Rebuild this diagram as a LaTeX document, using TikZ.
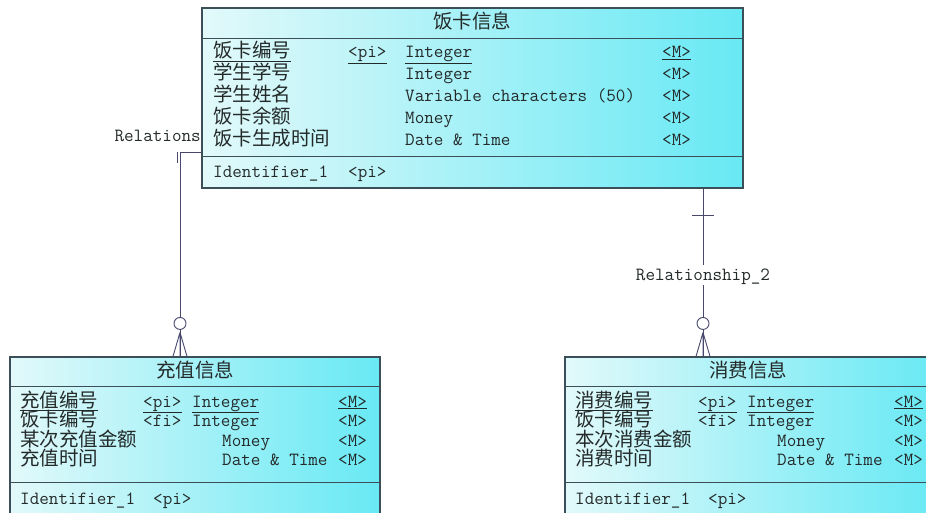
\documentclass[tikz,border=0pt]{standalone}
\usepackage{fontspec}
\newfontfamily\cjk{Noto Sans CJK SC}
\definecolor{entlight}{RGB}{226,249,250}
\definecolor{entdark}{RGB}{104,233,244}
\definecolor{entline}{RGB}{60,78,88}
\definecolor{relline}{RGB}{72,72,110}
\definecolor{txt}{RGB}{36,42,42}
\begin{document}
\begin{tikzpicture}[x=1pt, y=-1pt,
    cn/.style={inner sep=0pt, text=txt, text height=13, text depth=3,
      font=\cjk\fontsize{19.5}{20}\selectfont},
    tt/.style={inner sep=0pt, text=txt, text height=13, text depth=3,
      font=\ttfamily\fontsize{18.6}{18}\selectfont},
    ent/.style={draw=entline, line width=1.1pt, left color=entlight,
      right color=entdark, inner sep=0pt},
    rel/.style={draw=relline, line width=0.9pt}]
  \useasboundingbox[fill=white] (0,0) rectangle (926,513);

  % label of the first link, cut by the box
  \node[tt, anchor=east] (lab1) at (201,137) {Relations};

  % 饭卡信息
  \node[ent, minimum width=541, minimum height=180] (fanka) at (472.5,98) {};
  \draw[entline, line width=1.1pt] (fanka.north west) ++(0,31) -- ++(541,0);
  \draw[entline, line width=1.1pt] (fanka.north west) ++(0,149) -- ++(541,0);
  \node[cn] (fanka-t) at (472,24) {饭卡信息};
  \node[cn, anchor=west] (f1) at (213,53) {\underline{饭卡编号}};
  \node[cn, anchor=west] (f2) at (213,75) {学生学号};
  \node[cn, anchor=west] (f3) at (213,97) {学生姓名};
  \node[cn, anchor=west] (f4) at (213,119) {饭卡余额};
  \node[cn, anchor=west] (f5) at (213,141) {饭卡生成时间};
  \node[tt, anchor=west] (fk1) at (348,53) {\underline{<pi>}};
  \node[tt, anchor=west] (ft1) at (405,53) {\underline{Integer}};
  \node[tt, anchor=west] (ft2) at (405,75) {Integer};
  \node[tt, anchor=west] (ft3) at (405,97) {Variable characters (50)};
  \node[tt, anchor=west] (ft4) at (405,119) {Money};
  \node[tt, anchor=west] (ft5) at (405,141) {Date \& Time};
  \node[tt, anchor=west] (fm1) at (662,53) {\underline{<M>}};
  \node[tt, anchor=west] (fm2) at (662,75) {<M>};
  \node[tt, anchor=west] (fm3) at (662,97) {<M>};
  \node[tt, anchor=west] (fm4) at (662,119) {<M>};
  \node[tt, anchor=west] (fm5) at (662,141) {<M>};
  \node[tt, anchor=west] (f-id) at (213,173) {Identifier\_1};
  \node[tt, anchor=west] (f-idk) at (348,173) {<pi>};

  % 充值信息
  \node[ent, minimum width=370, minimum height=160] (chong) at (195,437) {};
  \draw[entline, line width=1.1pt] (chong.north west) ++(0,30) -- ++(370,0);
  \draw[entline, line width=1.1pt] (chong.north west) ++(0,126) -- ++(370,0);
  \node[cn] (chong-t) at (195,372) {充值信息};
  \node[cn, anchor=west] (c1) at (20,402) {\underline{充值编号}};
  \node[cn, anchor=west] (c2) at (20,421.5) {饭卡编号};
  \node[cn, anchor=west] (c3) at (20,441) {某次充值金额};
  \node[cn, anchor=west] (c4) at (20,460.5) {充值时间};
  \node[tt, anchor=west] (ck1) at (143,402) {\underline{<pi>}};
  \node[tt, anchor=west] (ck2) at (143,421.5) {<fi>};
  \node[tt, anchor=west] (ct1) at (192,402) {\underline{Integer}};
  \node[tt, anchor=west] (ct2) at (192,421.5) {Integer};
  \node[tt, anchor=west] (ct3) at (222,441) {Money};
  \node[tt, anchor=west] (ct4) at (222,460.5) {Date \& Time};
  \node[tt, anchor=west] (cm1) at (338,402) {\underline{<M>}};
  \node[tt, anchor=west] (cm2) at (338,421.5) {<M>};
  \node[tt, anchor=west] (cm3) at (338,441) {<M>};
  \node[tt, anchor=west] (cm4) at (338,460.5) {<M>};
  \node[tt, anchor=west] (c-id) at (20,499) {Identifier\_1};
  \node[tt, anchor=west] (c-idk) at (153,499) {<pi>};

  % 消费信息
  \node[ent, minimum width=370, minimum height=160] (xiao) at (750,437) {};
  \draw[entline, line width=1.1pt] (xiao.north west) ++(0,30) -- ++(370,0);
  \draw[entline, line width=1.1pt] (xiao.north west) ++(0,126) -- ++(370,0);
  \node[cn] (xiao-t) at (748,372) {消费信息};
  \node[cn, anchor=west] (x1) at (575,402) {\underline{消费编号}};
  \node[cn, anchor=west] (x2) at (575,421.5) {饭卡编号};
  \node[cn, anchor=west] (x3) at (575,441) {本次消费金额};
  \node[cn, anchor=west] (x4) at (575,460.5) {消费时间};
  \node[tt, anchor=west] (xk1) at (698,402) {\underline{<pi>}};
  \node[tt, anchor=west] (xk2) at (698,421.5) {<fi>};
  \node[tt, anchor=west] (xt1) at (747,402) {\underline{Integer}};
  \node[tt, anchor=west] (xt2) at (747,421.5) {Integer};
  \node[tt, anchor=west] (xt3) at (777,441) {Money};
  \node[tt, anchor=west] (xt4) at (777,460.5) {Date \& Time};
  \node[tt, anchor=west] (xm1) at (894,402) {\underline{<M>}};
  \node[tt, anchor=west] (xm2) at (894,421.5) {<M>};
  \node[tt, anchor=west] (xm3) at (894,441) {<M>};
  \node[tt, anchor=west] (xm4) at (894,460.5) {<M>};
  \node[tt, anchor=west] (x-id) at (575,499) {Identifier\_1};
  \node[tt, anchor=west] (x-idk) at (708,499) {<pi>};

  % links
  \coordinate (r1) at (180,152);
  \coordinate (r2) at (703,0);
  \draw[rel] (fanka.west |- r1) -- (r1) -- (r1 |- chong.north);
  \draw[rel] (r1) ++(-3,0) -- ++(0,11);
  \draw[rel] (r2 |- fanka.south) -- (r2 |- xiao.north);
  \draw[rel] (r2 |- fanka.south) ++(-11,27) -- ++(22,0);
  \node[tt, fill=white, inner sep=2pt] (lab2) at (703,275) {Relationship\_2};

  \draw[rel, fill=white] (r1 |- chong.north) ++(0,-33) circle (6);
  \draw[rel] (r1 |- chong.north) ++(0,-24) coordinate (ftc) -- ++(-7,24)
    (ftc) -- ++(0,24) (ftc) -- ++(7,24);
  \draw[rel, fill=white] (r2 |- xiao.north) ++(0,-33) circle (6);
  \draw[rel] (r2 |- xiao.north) ++(0,-24) coordinate (ftx) -- ++(-7,24)
    (ftx) -- ++(0,24) (ftx) -- ++(7,24);
\end{tikzpicture}
\end{document}
